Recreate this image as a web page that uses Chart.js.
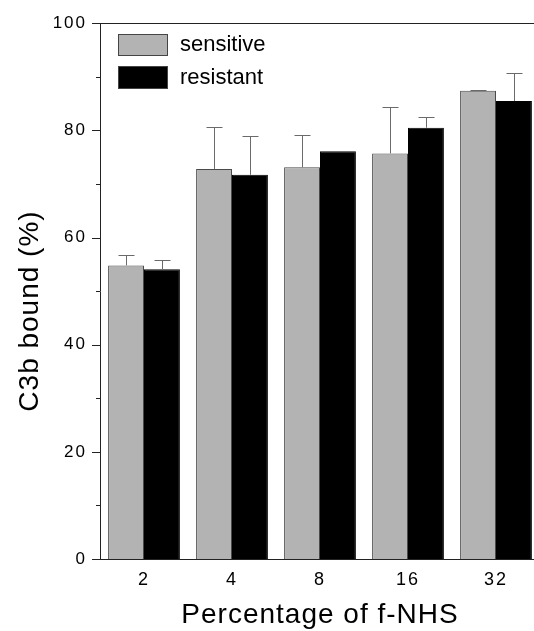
<!DOCTYPE html>
<html>
<head>
<meta charset="utf-8">
<script src="https://cdn.jsdelivr.net/npm/chart.js@4/dist/chart.umd.min.js"></script>
<style>
  html, body { margin: 0; padding: 0; background: #fff; overflow: hidden; }
</style>
</head>
<body>
<canvas id="myChart" width="534" height="631"></canvas>
<script>
var categories = ["2", "4", "8", "16", "32"];
var sensitive = [54.8, 72.8, 73.1, 75.7, 87.4];
var sensitiveErr = [2.0, 7.9, 6.1, 8.7, 0.2];
var resistant = [54.1, 71.7, 76.1, 80.5, 85.5];
var resistantErr = [1.7, 7.3, 0, 2.0, 5.2];
var yTicks = [0, 20, 40, 60, 80, 100];

var font = "'Liberation Sans', Arial, Helvetica, sans-serif";

// error bars (upper half only), legend inside the plot, minor ticks, titles
var extras = {
  id: "extras",
  afterLayout: function (chart) {
    // the original plot runs a little past the right edge of the picture
    var x = chart.scales.x;
    var right = 540;
    chart.chartArea.right = right;
    chart.chartArea.width = right - chart.chartArea.left;
    x.right = right;
    x.width = right - x.left;
    x.configure();
  },
  beforeDraw: function (chart) {
    // the original tick labels are set a bit wide
    chart.ctx.letterSpacing = "2px";
  },
  afterDatasetsDraw: function (chart) {
    var ctx = chart.ctx;
    var y = chart.scales.y;
    var errs = [sensitiveErr, resistantErr];
    ctx.save();
    ctx.strokeStyle = "#6a6a6a";
    ctx.lineWidth = 1;
    chart.data.datasets.forEach(function (ds, i) {
      var meta = chart.getDatasetMeta(i);
      meta.data.forEach(function (bar, j) {
        var e = errs[i][j];
        if (!e) return;
        var x = Math.round(bar.x) + 0.5;
        var top = Math.round(y.getPixelForValue(ds.data[j] + e)) + 0.5;
        ctx.beginPath();
        ctx.moveTo(x, bar.y);
        ctx.lineTo(x, top);
        ctx.moveTo(x - 8, top);
        ctx.lineTo(x + 8, top);
        ctx.stroke();
      });
    });
    ctx.restore();
  },
  afterDraw: function (chart) {
    var ctx = chart.ctx;
    var area = chart.chartArea;
    var y = chart.scales.y;
    ctx.save();
    ctx.strokeStyle = "#222";
    ctx.lineWidth = 1;
    // top frame line
    ctx.beginPath();
    ctx.moveTo(area.left, Math.round(area.top) + 0.5);
    ctx.lineTo(area.right, Math.round(area.top) + 0.5);
    ctx.stroke();
    // major and minor ticks
    for (var v = 0; v <= 100; v += 10) {
      var py = Math.round(y.getPixelForValue(v)) + 0.5;
      var len = v % 20 === 0 ? 8 : 4;
      ctx.beginPath();
      ctx.moveTo(area.left - len, py);
      ctx.lineTo(area.left, py);
      ctx.stroke();
    }
    // legend
    var boxes = [[34, 22], [66, 23]];
    ctx.letterSpacing = "0px";
    chart.data.datasets.forEach(function (ds, i) {
      ctx.fillStyle = ds.backgroundColor;
      ctx.fillRect(118, boxes[i][0], 50, boxes[i][1]);
      ctx.strokeStyle = "#444";
      ctx.strokeRect(118.5, boxes[i][0] + 0.5, 49, boxes[i][1] - 1);
      ctx.fillStyle = "#000";
      ctx.font = "22px " + font;
      ctx.textBaseline = "middle";
      ctx.textAlign = "left";
      ctx.fillText(ds.label, 180, boxes[i][0] + boxes[i][1] / 2);
    });
    // axis titles
    ctx.fillStyle = "#000";
    ctx.font = "28px " + font;
    ctx.letterSpacing = "1px";
    ctx.textAlign = "center";
    ctx.textBaseline = "alphabetic";
    ctx.fillText("Percentage of f-NHS", 320, 623);
    ctx.translate(38, 311);
    ctx.rotate(-Math.PI / 2);
    ctx.fillText("C3b bound (%)", 0, 0);
    ctx.restore();
  }
};

new Chart("myChart", {
  type: "bar",
  data: {
    labels: categories,
    datasets: [{
      label: "sensitive",
      data: sensitive,
      backgroundColor: "#b3b3b3",
      borderColor: "#4a4a4a",
      borderWidth: 1
    }, {
      label: "resistant",
      data: resistant,
      backgroundColor: "#000000",
      borderColor: "#000000",
      borderWidth: 1
    }]
  },
  options: {
    responsive: false,
    animation: false,
    devicePixelRatio: 1,
    categoryPercentage: 0.816,
    barPercentage: 1.0,
    layout: { padding: { top: 16, right: 0, left: 0, bottom: 0 } },
    plugins: {
      legend: { display: false },
      title: { display: false },
      tooltip: { enabled: false }
    },
    scales: {
      x: {
        grid: { display: false, drawTicks: false },
        border: { display: true, color: "#222", width: 1 },
        ticks: { color: "#000", padding: 10, font: { family: font, size: 18 } },
        afterFit: function (scale) { scale.height = 72; }
      },
      y: {
        min: 0,
        max: 100,
        afterBuildTicks: function (scale) {
          scale.ticks = yTicks.map(function (v) { return { value: v }; });
        },
        grid: { display: false, drawTicks: false },
        border: { display: true, color: "#222", width: 1 },
        ticks: { color: "#000", padding: 13, font: { family: font, size: 17 } },
        afterFit: function (scale) { scale.width = 100; }
      }
    }
  },
  plugins: [extras]
});
</script>
</body>
</html>
